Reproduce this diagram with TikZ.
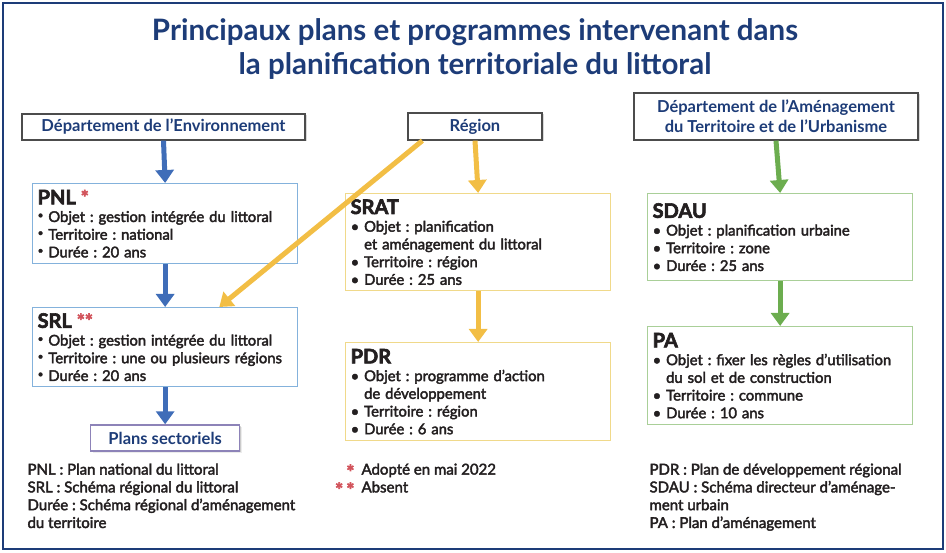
\documentclass[tikz,border=0pt]{standalone}
\usepackage{fontspec}
\setmainfont{Lato}
\newfontfamily\medfont{Lato}[FakeBold=2.6]
\newfontfamily\heavyfont{Lato}[FakeBold=3]
\usetikzlibrary{arrows.meta, positioning, shadows, calc}
\definecolor{mNavy}{HTML}{1D3C78}
\definecolor{mBlue}{HTML}{3F6DB8}
\definecolor{mLightBlue}{HTML}{84B2DC}
\definecolor{mYellow}{HTML}{F2BE45}
\definecolor{mLightYellow}{HTML}{F0D98A}
\definecolor{mGreen}{HTML}{6CAD4F}
\definecolor{mLightGreen}{HTML}{A9CF98}
\definecolor{mPurple}{HTML}{8D83B8}
\definecolor{mStar}{HTML}{D2545C}
\definecolor{mText}{HTML}{231F20}
\frenchspacing

\tikzset{
  headbox/.style={draw=black!70, line width=1.3pt, fill=white, text=mNavy,
    font=\bfseries\fontsize{16.5}{20}\selectfont, align=center,
    drop shadow={opacity=0.3, shadow xshift=1.5pt, shadow yshift=-1.5pt}},
  planbox/.style={draw=#1, line width=1.3pt, fill=white, text=mText,
    anchor=north west, align=left, inner xsep=5pt, inner ysep=2pt,
    font=\medfont\fontsize{14.8}{17.7}\selectfont},
  flow/.style={draw=#1, line width=5pt, -{Triangle[width=18pt,length=13pt]}},
  legend/.style={anchor=north west, align=left, text=mText,
    font=\medfont\fontsize{15}{17.8}\selectfont}
}
\newcommand{\plantitle}[1]{{\heavyfont\bfseries\fontsize{20}{19}\selectfont #1}}
\newcommand{\redstar}[1]{\textcolor{mStar}{\heavyfont\bfseries\fontsize{19}{17}\selectfont #1}}
\newcommand{\hibul}{\raisebox{3.5pt}{\fontsize{10}{10}\selectfont\textbullet}\ }

\begin{document}
\begin{tikzpicture}[x=1pt, y=-1pt]
  \useasboundingbox (0,0) rectangle (946,553);
  % frame
  \draw[mNavy, line width=2pt] (3,3) rectangle (943,549);

  % title
  \node[text=mNavy, align=center, font=\bfseries\fontsize{29.5}{34}\selectfont]
    (title) at (475,49) {Principaux plans et programmes intervenant dans\\
                          la planification territoriale du littoral};

  % heads
  \node[headbox, minimum width=283, minimum height=26] (denv) at (163.5,127) {Département de l’Environnement};
  \node[headbox, minimum width=134, minimum height=27] (region) at (475,126.5) {Région};
  \node[headbox, minimum width=284, minimum height=47] (damen) at (776,116.5)
    {Département de l’Aménagement\\du Territoire et de l’Urbanisme};

  % left column
  \node[planbox=mLightBlue, minimum width=265, minimum height=80, text width=255] (pnl) at (32,183)
    {\plantitle{PNL} \redstar{*}\\
     \hibul Objet : gestion intégrée du littoral\\
     \hibul Territoire : national\\
     \hibul Durée : 20 ans};
  \node[planbox=mLightBlue, minimum width=265, minimum height=79, text width=255] (srl) at (32,307)
    {\plantitle{SRL} \redstar{**}\\
     \hibul Objet : gestion intégrée du littoral\\
     \hibul Territoire : une ou plusieurs régions\\
     \hibul Durée : 20 ans};
  \node[headbox, draw=mPurple, drop shadow={opacity=0.15}, minimum width=149, minimum height=26,
    below=37pt of srl] (plans) {Plans sectoriels};

  % middle column
  \node[planbox=mLightYellow, minimum width=265, minimum height=97, text width=255] (srat) at (345,193)
    {\plantitle{SRAT}\\
     \textbullet\ Objet : planification\\
     \phantom{\textbullet\ }et aménagement du littoral\\
     \textbullet\ Territoire : région\\
     \textbullet\ Durée : 25 ans};
  \node[planbox=mLightYellow, minimum width=265, minimum height=98, text width=255] (pdr) at (345,342)
    {\plantitle{PDR}\\
     \textbullet\ Objet : programme d’action\\
     \phantom{\textbullet\ }de développement\\
     \textbullet\ Territoire : région\\
     \textbullet\ Durée : 6 ans};

  % right column
  \node[planbox=mLightGreen, minimum width=265, minimum height=87, text width=255] (sdau) at (647,193)
    {\plantitle{SDAU}\\
     \textbullet\ Objet : planification urbaine\\
     \textbullet\ Territoire : zone\\
     \textbullet\ Durée : 25 ans};
  \node[planbox=mLightGreen, minimum width=265, minimum height=98, text width=255] (pa) at (647,326)
    {\plantitle{PA}\\
     \textbullet\ Objet : fixer les règles d’utilisation\\
     \phantom{\textbullet\ }du sol et de construction\\
     \textbullet\ Territoire : commune\\
     \textbullet\ Durée : 10 ans};

  % arrows
  \draw[flow=mBlue] (denv.south) -- (pnl.north);
  \draw[flow=mBlue] (pnl.south) -- (srl.north);
  \draw[flow=mBlue] (srl.south) -- (plans.north);
  \draw[flow=mYellow] (region.south) -- (srat.north);
  \draw[flow=mYellow] (srat.south) -- (pdr.north);
  \draw[flow=mYellow] ($(region.south west)+(15,0)$) -- ($(srl.north east)+(-79,0)$);
  \draw[flow=mGreen] (damen.south) -- (sdau.north);
  \draw[flow=mGreen] (sdau.south) -- (pa.north);

  % legends
  \node[legend] (legl) at (24,460)
    {PNL : Plan national du littoral\\
     SRL : Schéma régional du littoral\\
     Durée : Schéma régional d’aménagement\\
     du territoire};
  \node[legend, align=right, anchor=north east] (legstar) at (358,461)
    {\redstar{*}\\\redstar{*\,*}};
  \node[legend] (legm) at (358,460)
    {Adopté en mai 2022\\
     Absent};
  \node[legend] (legr) at (646,460)
    {PDR : Plan de développement régional\\
     SDAU : Schéma directeur d’aménage-\\
     ment urbain\\
     PA : Plan d’aménagement};
\end{tikzpicture}
\end{document}
